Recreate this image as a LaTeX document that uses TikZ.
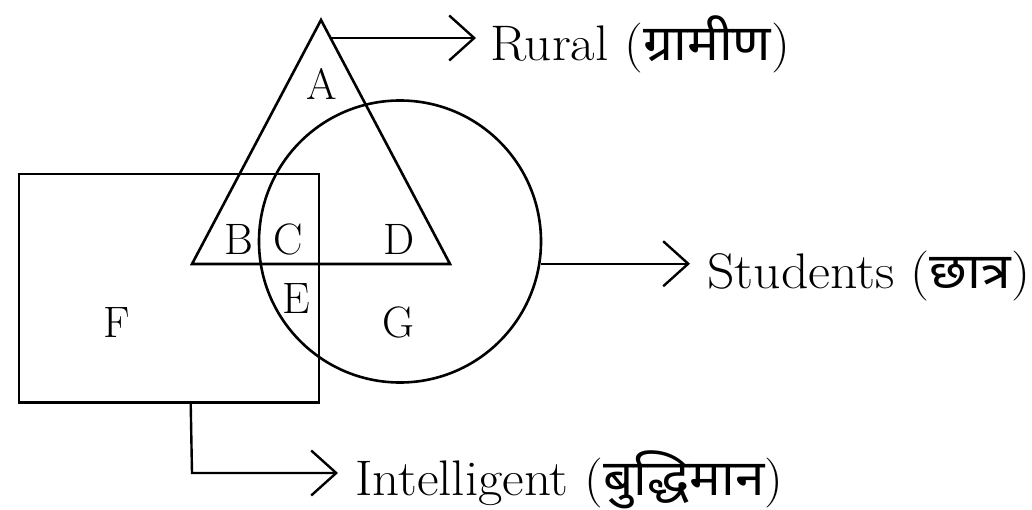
\documentclass[tikz,border=0pt]{standalone}
\usepackage{fontspec}
\newfontfamily\dev[Script=Devanagari]{Noto Sans}
\usetikzlibrary{arrows.meta,calc}
\begin{document}
\begin{tikzpicture}[x=1pt,y=-1pt,
  shapeline/.style={line width=2.6pt, line join=miter},
  conn/.style={line width=2.4pt, -{Straight Barb[length=25pt,width=45pt,line width=2.4pt]}},
  region/.style={inner sep=0pt, anchor=base, font=\fontsize{44}{50}\selectfont},
  setlabel/.style={inner sep=0pt, anchor=base west, font=\fontsize{50}{60}\selectfont}]
\useasboundingbox (0,0) rectangle (1032,510);
% triangle (Rural)
\coordinate (apex) at (321,20);
\coordinate (bl) at (192,264);
\coordinate (br) at (450,264);
\draw[shapeline] (apex) -- (br) -- (bl) -- cycle;
% circle (Students)
\node[shapeline, draw, circle, inner sep=0pt, minimum size=282pt] (circ) at (400,241.5) {};
% rectangle (Intelligent)
\node[shapeline, draw, rectangle, inner sep=0pt, minimum width=300pt, minimum height=228.5pt] (rect) at (169,288.25) {};
% region letters
\node[region] (la) at (322,100) {A};
\node[region] (lb) at (239,255) {B};
\node[region] (lc) at (288,255) {C};
\node[region] (ld) at (399,255) {D};
\node[region] (le) at (296,313) {E};
\node[region] (lf) at (117,337) {F};
\node[region] (lg) at (398,337) {G};
% set labels
\node[setlabel] (rural) at (490,61) {\resizebox{300pt}{\height}{Rural ({\dev ग्रामीण})}};
\node[setlabel] (students) at (707,289) {\resizebox{323pt}{\height}{Students ({\dev छात्र})}};
\node[setlabel] (intel) at (355,495) {\resizebox{428pt}{\height}{Intelligent ({\dev बुद्धिमान})}};
% connectors
\coordinate (r0) at ($(apex)!0.0738!(br)$);
\draw[conn] (r0) -- ($(rural.west |- r0)+(-14,0)$);
\coordinate (s0) at (circ.-9.2);
\draw[conn] (s0) -- ($(students.west |- s0)+(-17,0)$);
\coordinate (i0) at ($(rect.south west)+(173,0)$);
\coordinate (ic) at (192,473);
\draw[conn] (i0) -- (ic) -- ($(intel.west |- ic)+(-17,0)$);
\end{tikzpicture}
\end{document}
